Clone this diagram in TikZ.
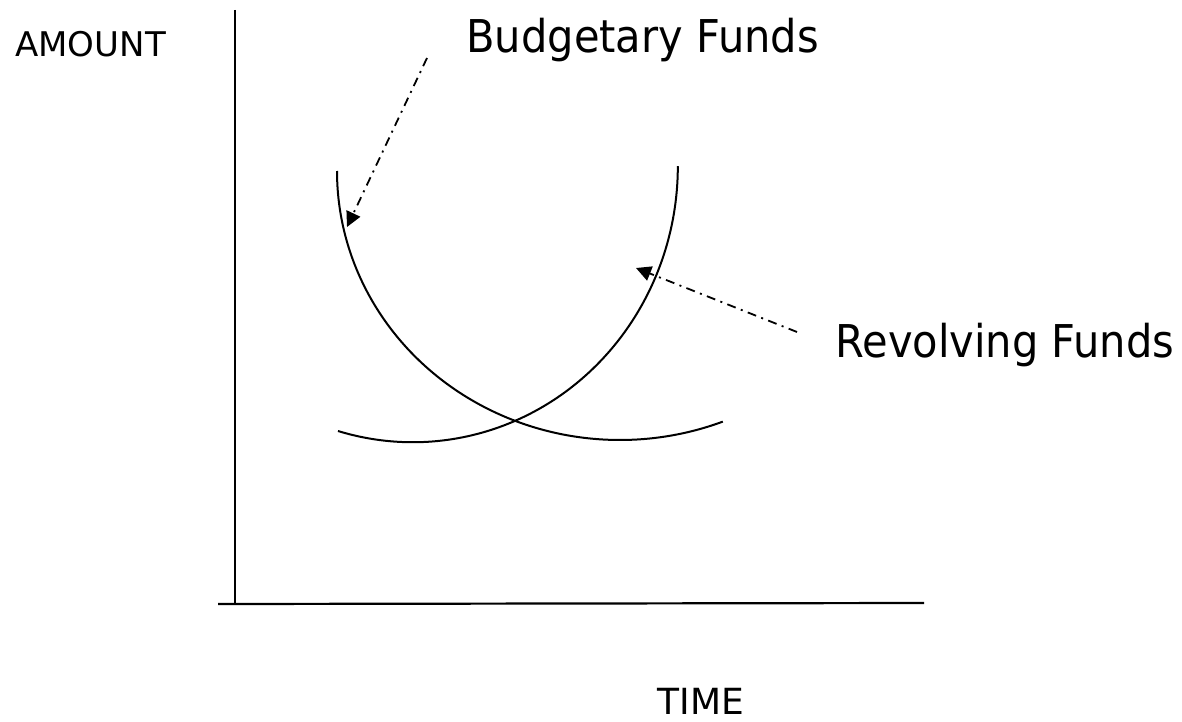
\documentclass[tikz,border=0pt]{standalone}
\usepackage{fontspec}
\setmainfont{DejaVu Sans}
\newfontfamily\narrowfont[FakeStretch=0.92]{DejaVu Sans}
\usetikzlibrary{arrows.meta}
\begin{document}
\begin{tikzpicture}[x=0.5pt,y=-0.5pt,
  axis/.style={line width=1.1pt, line cap=butt},
  curve/.style={line width=1pt},
  pointer/.style={line width=0.9pt, dash pattern=on 4.5pt off 2.75pt on 1pt off 2.75pt,
    -{Triangle[length=7.5pt,width=7.5pt]}},
  lbl/.style={inner sep=0pt, anchor=base west},
  big/.style={font=\narrowfont\fontsize{22.6pt}{27pt}\selectfont},
  small/.style={font=\fontsize{17pt}{20pt}\selectfont}]
\useasboundingbox (0,0) rectangle (1182,722);
% axes
\coordinate (ytop) at (235,10);
\coordinate (origin) at (235,604);
\coordinate (xleft) at (218,604);
\coordinate (xright) at (924,603);
\draw[axis] (ytop) -- (origin);
\draw[axis] (xleft) -- (xright);
% labels
\node[lbl, small] (amount) at (15,57) {AMOUNT};
\node[lbl, font=\fontsize{18pt}{21pt}\selectfont] (time) at (657,714) {TIME};
\node[lbl, big] (budget) at (466,53) {Budgetary Funds};
\node[lbl, big] (revolve) at (835,357) {Revolving Funds};
% curves
\draw[curve] (337,171) arc[start angle=180, end angle=68.7, x radius=283, y radius=269];
\draw[curve] (338,431) arc[start angle=106.4, end angle=0, x radius=265, y radius=276];
% pointers
\coordinate (btail) at (427,58);
\coordinate (btip) at (347,227);
\coordinate (rtail) at (797,332);
\coordinate (rtip) at (636,268);
\draw[pointer] (btail) -- (btip);
\draw[pointer] (rtail) -- (rtip);
\end{tikzpicture}
\end{document}
